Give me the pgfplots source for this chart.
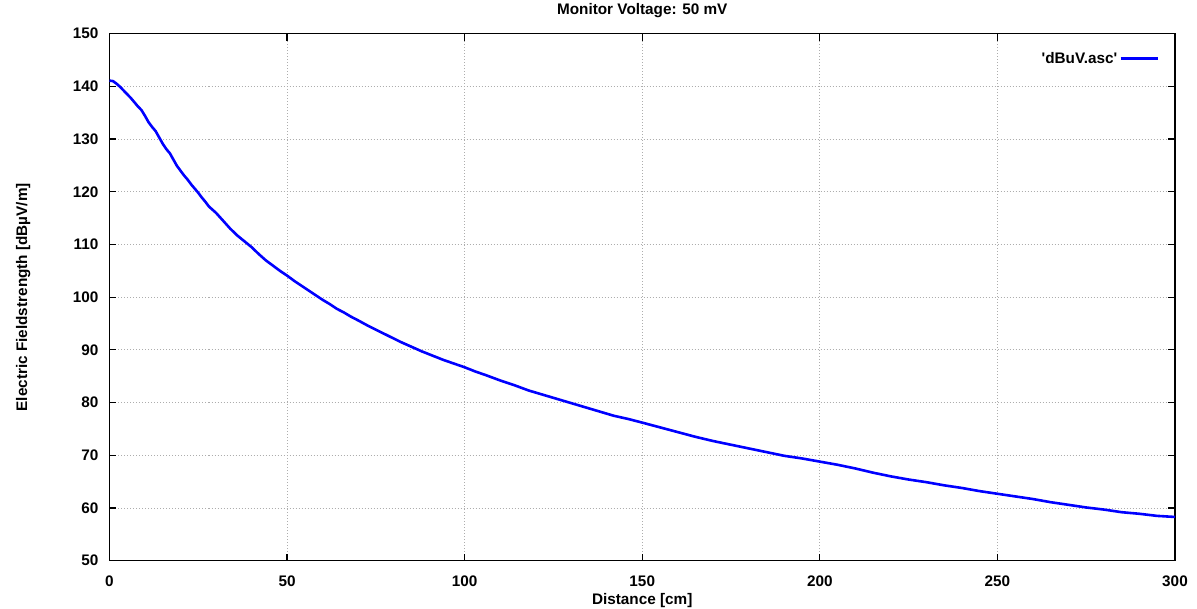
\documentclass[border=0pt]{standalone}
\usepackage{fontspec}
\setmainfont{Liberation Sans}
\usepackage{pgfplots}
\pgfplotsset{compat=1.18}
\usepackage{pgfplotstable}

% field strength vs distance, read off the gnuplot output
\pgfplotstableread{
x y
0 141.1
1 141.0
2 140.5
3 139.9
4 139.2
5 138.5
6 137.8
7 137.0
8 136.2
9 135.5
10 134.4
11 133.2
12 132.3
13 131.5
14 130.3
15 129.1
16 128.1
17 127.3
18 126.1
19 124.9
20 124.0
21 123.1
22 122.3
23 121.4
24 120.6
25 119.8
26 118.9
27 118.1
28 117.2
29 116.6
30 116.0
32 114.5
34 113.0
36 111.7
38 110.6
40 109.5
42 108.2
44 107.0
46 106.0
48 105.0
50 104.1
52 103.1
54 102.2
56 101.3
58 100.4
60 99.5
62 98.7
64 97.8
66 97.1
68 96.3
70 95.6
73 94.5
76 93.5
79 92.5
82 91.5
85 90.6
88 89.7
91 88.9
94 88.1
97 87.4
100 86.7
103 85.9
106 85.2
110 84.2
114 83.3
118 82.3
122 81.5
126 80.7
130 79.9
134 79.1
138 78.3
142 77.5
146 76.9
150 76.2
155 75.3
160 74.4
165 73.5
170 72.7
175 72.0
180 71.3
185 70.6
190 69.9
195 69.4
200 68.8
205 68.2
210 67.5
215 66.7
220 66.0
225 65.4
230 64.9
235 64.3
240 63.8
245 63.2
250 62.7
255 62.2
260 61.7
265 61.1
270 60.6
275 60.1
280 59.7
285 59.2
290 58.9
295 58.5
300 58.3
}\fieldtable

\begin{document}
\begin{tikzpicture}
\begin{axis}[
  at={(0pt,0pt)}, anchor=south west,
  scale only axis,
  width=1065.5pt, height=527pt,
  xmin=0, xmax=300, ymin=50, ymax=150,
  xtick distance=50, ytick distance=10,
  tick pos=both, tick align=inside,
  major tick length=7pt,
  tick style={black, line width=1.2pt},
  axis line style={black, line width=1.3pt},
  grid=major,
  grid style={black!32, line width=0.8pt, dash pattern=on 1pt off 2pt},
  font=\fontsize{15.3}{18}\selectfont\bfseries,
  /pgf/number format/assume math mode=true,
  xticklabel style={anchor=base, inner sep=0pt, yshift=-25.5pt},
  yticklabel style={anchor=east, inner sep=0pt, xshift=-11pt},
  title={Monitor Voltage: 50 mV},
  title style={at={(axis description cs:0.5,1.0247)}, anchor=base},
  xlabel={Distance [cm]},
  ylabel={Electric Fieldstrength [dBµV/m]},
  every axis x label/.style={at={(axis description cs:0.5,-0.0835)}, anchor=base},
  every axis y label/.style={at={(axis description cs:-0.0774,0.5)}, rotate=90, anchor=base},
  legend plot pos=right,
  legend style={draw=none, fill=none, inner sep=0pt,
    at={(axis description cs:0.985,0.9526)}, anchor=east,
    legend cell align=right},
  legend image code/.code={\draw[#1] (0pt,0pt) -- (37pt,0pt);},
]
\addplot[color=blue, line width=2.6pt, line join=round] table[x=x, y=y] {\fieldtable};
\addlegendentry{\textquotesingle dBuV.asc\textquotesingle}
\end{axis}
\pgfresetboundingbox
\path[use as bounding box] (-109.5pt,-48.3pt) rectangle ++(1197pt,609pt);
\end{tikzpicture}
\end{document}
